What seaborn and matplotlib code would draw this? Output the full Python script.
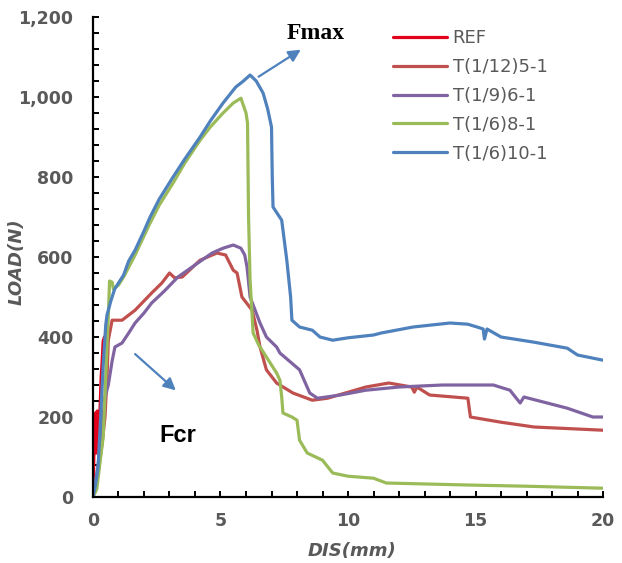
import numpy as np
import pandas as pd
import matplotlib
matplotlib.use("Agg")
import matplotlib.pyplot as plt
from matplotlib.ticker import MultipleLocator, FuncFormatter
import seaborn as sns

# load-displacement curves
ref_x = [0, 0.04, 0.08, 0.1, 0.13, 0.17, 0.22, 0.27, 0.32, 0.36, 0.4, 0.45]
ref_y = [0, 120, 190, 210, 110, 215, 150, 210, 300, 340, 390, 400]

t12_x = [0, 0.2, 0.35, 0.47, 0.55, 0.6, 0.75, 1.14, 1.65, 2.3, 2.7, 3.0, 3.2, 3.5, 4.2, 4.86,
         5.2, 5.5, 5.65, 5.84, 6.24, 6.43, 6.55, 6.8, 7.2, 7.84, 8.6, 9.2, 10.7, 11.6, 12.5,
         12.6, 12.7, 13.2, 14.7, 14.8, 16, 17.3, 20]
t12_y = [0, 60, 130, 200, 300, 392, 442, 442, 467, 510, 535, 560, 548, 550, 592, 610,
         605, 567, 560, 500, 467, 417, 375, 318, 285, 260, 242, 247, 275, 285, 275,
         262, 275, 255, 247, 200, 187, 175, 167]

t9_x = [0, 0.2, 0.35, 0.47, 0.6, 0.75, 0.86, 1.14, 1.4, 1.65, 2.0, 2.3, 2.8, 3.33, 4.0, 4.67,
        5.1, 5.5, 5.8, 5.95, 6.04, 6.16, 6.55, 6.8, 7.2, 7.33, 8.1, 8.5, 8.8, 9.7, 10.7, 12,
        13.7, 15.7, 16.35, 16.75, 16.9, 18.6, 19.6, 20]
t9_y = [0, 80, 170, 250, 280, 340, 375, 385, 410, 435, 460, 485, 515, 550, 580, 610,
        622, 630, 622, 605, 575, 500, 435, 400, 375, 360, 318, 260, 247, 255, 267, 275,
        280, 280, 267, 235, 250, 222, 200, 200]

t68_x = [0, 0.15, 0.3, 0.4, 0.5, 0.6, 0.65, 0.75, 0.8, 1.0, 1.2, 1.65, 2.24, 2.6, 3.14, 3.6,
         4.2, 4.6, 5.1, 5.5, 5.8, 6.0, 6.06, 6.1, 6.16, 6.28, 6.5, 6.8, 7.2, 7.33, 7.4, 7.45,
         7.8, 8.0, 8.1, 8.4, 9.0, 9.4, 10, 11, 11.5, 14.7, 17, 20]
t68_y = [0, 20, 100, 150, 300, 450, 540, 537, 520, 530, 550, 605, 685, 730, 785, 835,
         892, 925, 960, 985, 997, 960, 935, 700, 542, 410, 380, 350, 310, 292, 250, 210,
         200, 192, 142, 110, 92, 60, 52, 47, 35, 30, 27, 22]

t610_x = [0, 0.1, 0.2, 0.3, 0.4, 0.5, 0.55, 0.7, 0.85, 1.0, 1.2, 1.4, 1.65, 2.0, 2.24, 2.6,
          3.14, 3.6, 4.2, 4.6, 5.1, 5.6, 5.9, 6.16, 6.4, 6.67, 6.85, 7.0, 7.03, 7.06, 7.4,
          7.6, 7.75, 7.8, 8.1, 8.6, 8.9, 9.4, 10.0, 11, 11.3, 12.55, 14, 14.7, 15.06, 15.3,
          15.35, 15.45, 16, 17.3, 18.6, 19, 20]
t610_y = [0, 30, 75, 200, 330, 430, 455, 490, 520, 535, 555, 590, 617, 665, 700, 745,
          800, 845, 900, 940, 985, 1025, 1040, 1055, 1040, 1010, 970, 925, 800, 725, 692,
          592, 500, 442, 425, 417, 400, 392, 398, 405, 410, 425, 435, 432, 425, 420,
          395, 420, 400, 387, 372, 355, 342]

names = ["REF", "T(1/12)5-1", "T(1/9)6-1", "T(1/6)8-1", "T(1/6)10-1"]
colors = ["#E3001B", "#C0504D", "#8064A2", "#9BBB59", "#4F81BD"]
curves = [(ref_x, ref_y), (t12_x, t12_y), (t9_x, t9_y), (t68_x, t68_y), (t610_x, t610_y)]

sns.set_style("ticks")
plt.rcParams['font.family'] = ['DejaVu Sans']

fig = plt.figure(figsize=(6.22, 5.63), dpi=100)
ax = fig.add_axes([0.1495, 0.1172, 0.82, 0.8526])

for name, color, (xs, ys) in zip(names, colors, curves):
    df = pd.DataFrame({"DIS": xs, "LOAD": ys})
    sns.lineplot(data=df, x="DIS", y="LOAD", sort=False, estimator=None,
                 color=color, lw=2.3, label=name, ax=ax)

ax.set_xlim(0, 20)
ax.set_ylim(0, 1200)
ax.xaxis.set_major_locator(MultipleLocator(5))
ax.xaxis.set_minor_locator(MultipleLocator(1))
ax.yaxis.set_major_locator(MultipleLocator(200))
ax.yaxis.set_minor_locator(MultipleLocator(40))
ax.yaxis.set_major_formatter(FuncFormatter(lambda v, p: "{:,.0f}".format(v)))

sns.despine(ax=ax)
for s in ["left", "bottom"]:
    ax.spines[s].set_linewidth(1.6)
    ax.spines[s].set_color("black")
ax.tick_params(which="both", direction="in", length=4, width=1.4, color="black")
ax.tick_params(axis="y", which="major", pad=14, labelsize=12.5, labelcolor="#595959")
ax.tick_params(axis="x", which="major", pad=11, labelsize=12.5, labelcolor="#595959")
for lab in ax.get_xticklabels() + ax.get_yticklabels():
    lab.set_fontweight("bold")

ax.set_xlabel("DIS(mm)", fontsize=13, fontweight="bold", fontstyle="italic",
              color="#595959", va="center")
ax.set_ylabel("LOAD(N)", fontsize=13, fontweight="bold", fontstyle="italic",
              color="#595959", va="center")
ax.xaxis.set_label_coords(0.508, -0.1125)
ax.yaxis.set_label_coords(-0.149, 0.49)

# annotations
arrow = dict(arrowstyle="-|>", color="#4F81BD", lw=1.6, mutation_scale=18)
ax.annotate("", xy=(8.24, 1122), xytext=(6.4, 1047), arrowprops=arrow)
ax.text(8.75, 1160, "Fmax", family="Liberation Serif", fontweight="bold",
        fontsize=17, ha="center", va="center", color="black")
ax.annotate("", xy=(3.33, 262), xytext=(1.57, 362), arrowprops=arrow)
ax.text(3.33, 155, "Fcr", family="Liberation Sans", fontweight="bold",
        fontsize=17, ha="center", va="center", color="black")

leg = ax.legend(loc="upper left", bbox_to_anchor=(0.632, 0.948),
                bbox_transform=fig.transFigure, frameon=False, fontsize=13,
                handlelength=3.0, handletextpad=0.3, labelspacing=0.6,
                borderpad=0, borderaxespad=0)
for t in leg.get_texts():
    t.set_color("#595959")

fig.savefig("out.png", dpi=100)
